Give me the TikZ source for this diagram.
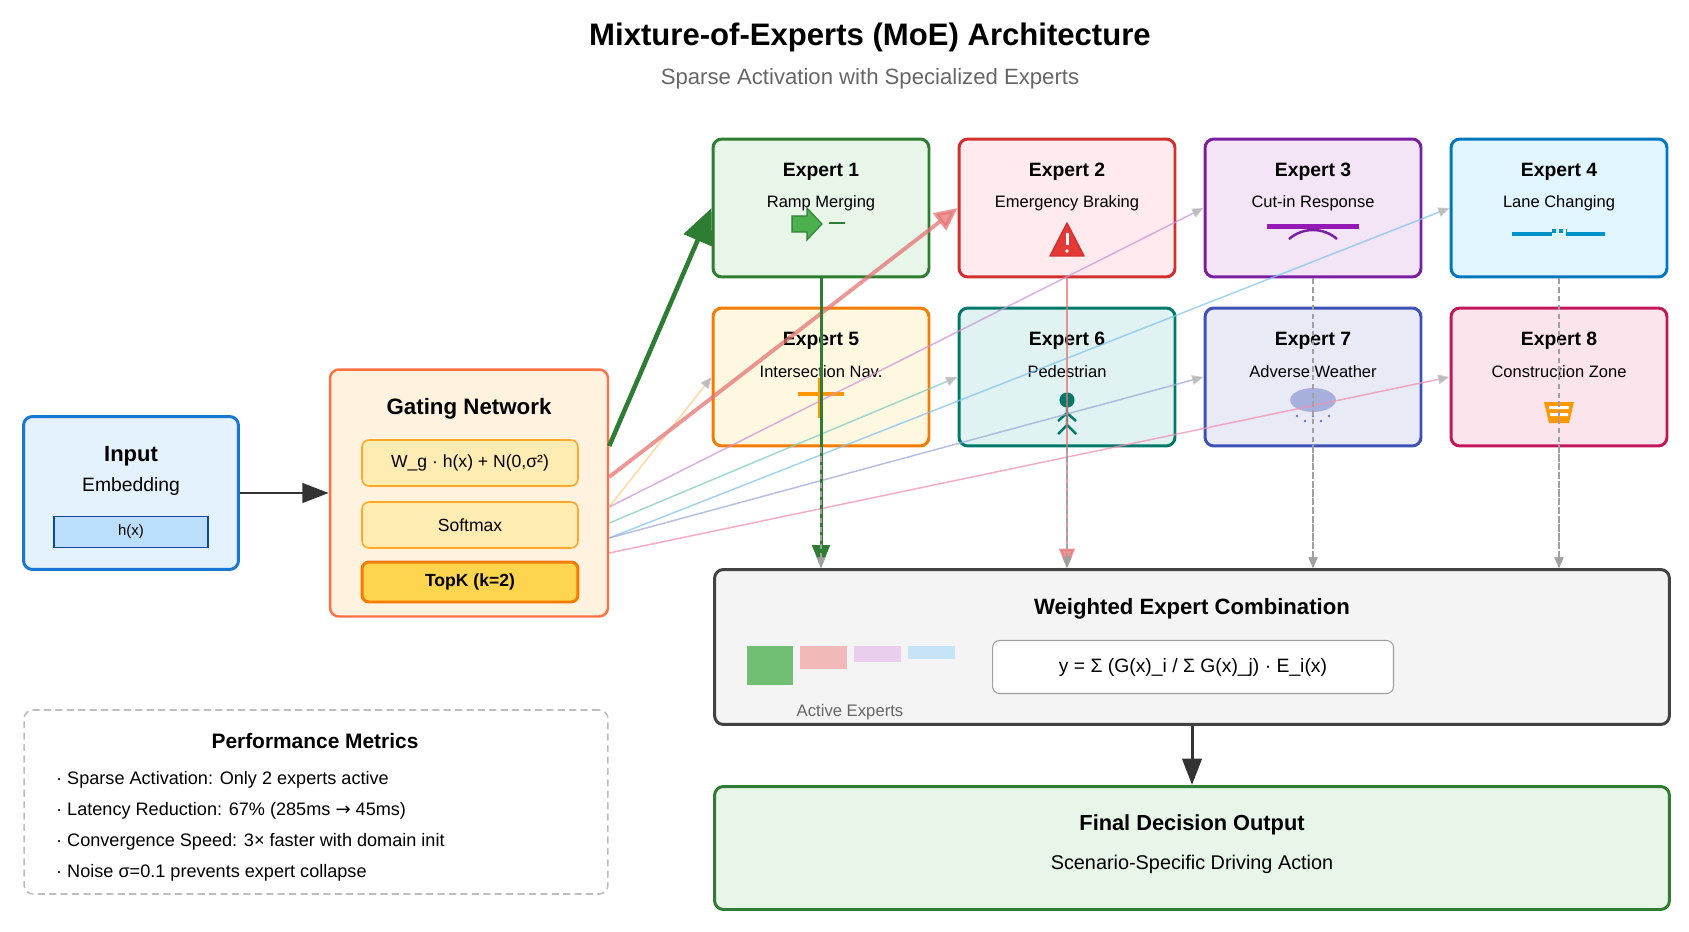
\documentclass[tikz,border=0pt]{standalone}
\usepackage{fontspec}
\setmainfont{Liberation Sans}
\newfontfamily\arrowfont{DejaVu Sans}
\usetikzlibrary{arrows.meta,calc}
\definecolor{ln1}{HTML}{2E7D32}\definecolor{bg1}{HTML}{E8F5E9}
\definecolor{ln2}{HTML}{D32F2F}\definecolor{bg2}{HTML}{FFEBEE}
\definecolor{ln3}{HTML}{7B1FA2}\definecolor{bg3}{HTML}{F3E5F5}
\definecolor{ln4}{HTML}{0277BD}\definecolor{bg4}{HTML}{E1F5FE}
\definecolor{ln5}{HTML}{F57C00}\definecolor{bg5}{HTML}{FFF8E1}
\definecolor{ln6}{HTML}{00796B}\definecolor{bg6}{HTML}{E0F2F1}
\definecolor{ln7}{HTML}{3F51B5}\definecolor{bg7}{HTML}{E8EAF6}
\definecolor{ln8}{HTML}{C2185B}\definecolor{bg8}{HTML}{FCE4EC}
\definecolor{rt3}{HTML}{CE93D8}\definecolor{rt4}{HTML}{81C4F0}
\definecolor{rt5}{HTML}{FFCC80}\definecolor{rt6}{HTML}{80CBC4}
\definecolor{rt7}{HTML}{9FA8DA}\definecolor{rt8}{HTML}{F48FB1}
\definecolor{inline}{HTML}{1976D2}\definecolor{inbg}{HTML}{E3F2FD}
\definecolor{hxline}{HTML}{0D47A1}\definecolor{hxbg}{HTML}{BBDEFB}
\definecolor{gateline}{HTML}{FF7043}\definecolor{gatebg}{HTML}{FFF3E0}
\definecolor{subline}{HTML}{FFA726}\definecolor{subbg}{HTML}{FFECB3}
\definecolor{topkline}{HTML}{F57C00}\definecolor{topkbg}{HTML}{FFD54F}
\definecolor{combline}{HTML}{424242}\definecolor{combbg}{HTML}{F4F4F4}
\definecolor{darkline}{HTML}{333333}\definecolor{redflow}{HTML}{E57373}
\definecolor{arrowgray}{HTML}{BDBDBD}\definecolor{idlegray}{HTML}{A0A0A0}
\definecolor{subgray}{HTML}{666666}\definecolor{mergegreen}{HTML}{4CAF50}
\definecolor{warnred}{HTML}{E53935}\definecolor{conegold}{HTML}{FF9800}
\tikzset{
 box/.style={draw, rounded corners=5pt, line width=1.7pt},
 expert/.style={box, draw=ln#1, fill=bg#1, minimum width=4.32cm, minimum height=2.76cm},
 etitle/.style={font=\fontsize{11}{13}\selectfont\bfseries},
 esub/.style={font=\fontsize{9.4}{11}\selectfont},
 gatesub/.style={draw=subline, fill=subbg, rounded corners=4pt, line width=0.9pt,
   minimum width=4.32cm, minimum height=0.92cm, font=\fontsize{10}{12}\selectfont},
 flow/.style={line width=1.7pt, draw=darkline, -{Triangle[length=15pt,width=11pt]}},
 route/.style={line width=0.85pt, draw opacity=0.75, -{Triangle[length=6.5pt,width=5.5pt,color=arrowgray]}},
 idle/.style={line width=0.7pt, draw=idlegray, dash pattern=on 3pt off 2pt,
   -{Triangle[length=6pt,width=5pt,color=idlegray]}},
}
\begin{document}
\begin{tikzpicture}[x=0.02cm, y=-0.02cm]
\useasboundingbox (0,0) rectangle (1689,932);
\node[font=\fontsize{17.7}{21}\selectfont\bfseries] (title) at (870,37) {Mixture-of-Experts (MoE) Architecture};
\node[font=\fontsize{12.6}{15}\selectfont, text=subgray] (subtitle) at (870,79) {Sparse Activation with Specialized Experts};

\node[box, draw=inline, fill=inbg, minimum width=4.3cm, minimum height=3.06cm] (input) at (131,493) {};
\node[font=\fontsize{12.5}{15}\selectfont\bfseries] (inputt) at (131,456) {Input};
\node[font=\fontsize{11}{13}\selectfont] (inputs) at (131,487) {Embedding};
\node[draw=hxline, fill=hxbg, line width=0.8pt, minimum width=3.08cm, minimum height=0.62cm,
  font=\fontsize{8.5}{10}\selectfont] (hx) at (131,532) {h(x)};

\node[box, draw=gateline, fill=gatebg, line width=1.4pt, minimum width=5.56cm, minimum height=4.94cm] (gate) at (469,493) {};
\node[font=\fontsize{12.7}{15}\selectfont\bfseries] (gatet) at (469,409) {Gating Network};
\node[gatesub] (noisy) at (470,463) {W\_g · h(x) + N(0,σ²)};
\node[gatesub] (softmax) at (470,525) {Softmax};
\node[gatesub, draw=topkline, fill=topkbg, line width=1.7pt, minimum height=0.8cm, font=\fontsize{10}{12}\selectfont\bfseries] (topk) at (470,582) {TopK (k=2)};

\foreach \i/\x/\y/\sub in {1/821/208/Ramp Merging, 2/1067/208/Emergency Braking,
  3/1313/208/Cut-in Response, 4/1559/208/Lane Changing, 5/821/377/Intersection Nav.,
  6/1067/377/Pedestrian, 7/1313/377/Adverse Weather, 8/1559/377/Construction Zone} {
  \node[expert=\i] (e\i) at (\x,\y) {};
  \node[etitle] (e\i t) at ($(e\i)+(0,-36)$) {Expert \i};
  \node[esub] (e\i s) at ($(e\i)+(0,-5)$) {\sub};
}

\begin{scope}[shift={(e1.center)}]
  \draw[ln1, fill=mergegreen, line width=0.6pt] (-29,8) -- (-14,8) -- (-14,0) -- (1,16) -- (-14,32) -- (-14,24) -- (-29,24) -- cycle;
  \draw[ln1, line width=1.7pt] (8,15) -- (24,15);
\end{scope}
\begin{scope}[shift={(e2.center)}]
  \draw[ln2, fill=warnred, line width=0.8pt, line join=round] (0,15) -- (17,48) -- (-17,48) -- cycle;
  \draw[white, line width=1.7pt] (0,25) -- (0,37);
  \fill[white] (0,43) circle (1.1pt);
\end{scope}
\begin{scope}[shift={(e3.center)}]
  \fill[ln3!80!magenta] (-46,16) rectangle (46,21);
  \draw[ln3, line width=1.4pt] (-24,31) .. controls (-10,19) and (10,19) .. (24,31);
\end{scope}
\begin{scope}[shift={(e4.center)}]
  \draw[ln4!80!cyan, line width=2pt] (-47,26) -- (-7,26) (7,26) -- (46,26);
  \draw[ln4!80!cyan, line width=2pt, dash pattern=on 2pt off 2pt] (-7,23) -- (8,23);
\end{scope}
\begin{scope}[shift={(e5.center)}]
  \draw[conegold, line width=2.2pt] (-23,17) -- (23,17) (-1,1) -- (-1,41);
\end{scope}
\begin{scope}[shift={(e6.center)}]
  \fill[ln6] (0,23) circle (4.3pt);
  \draw[ln6, line width=1.4pt] (0,28) -- (0,48) (-9,44) -- (0,36) -- (9,44) (-9,57) -- (0,48) -- (9,57);
\end{scope}
\begin{scope}[shift={(e7.center)}]
  \fill[ln7!60, opacity=0.7] (0,23) ellipse [x radius=13pt, y radius=6.8pt];
  \foreach \dx/\dy in {-16/39, -8/44, 0/39, 8/44, 16/39}
    \fill[ln7!80] (\dx,\dy) circle (0.8pt);
\end{scope}
\begin{scope}[shift={(e8.center)}]
  \fill[conegold] (-15,25) -- (15,25) -- (10,46) -- (-10,46) -- cycle;
  \fill[white] (-10,29) rectangle (10,32) (-9,36) rectangle (9,39);
\end{scope}

\node[box, draw=combline, fill=combbg, minimum width=19.1cm, minimum height=3.1cm] (comb) at (1192,647) {};
\node[font=\fontsize{12.6}{15}\selectfont\bfseries] (combt) at (1192,609) {Weighted Expert Combination};
\node[draw=idlegray, fill=white, rounded corners=4pt, line width=0.6pt, minimum width=8.02cm, minimum height=1.06cm,
  font=\fontsize{11}{13}\selectfont] (formula) at (1193,667) {y = Σ (G(x)\_i / Σ G(x)\_j) · E\_i(x)};
\fill[mergegreen!80] (747,646) rectangle (793,685);
\fill[redflow!50] (800,646) rectangle (847,669);
\fill[rt3!45] (854,646) rectangle (901,662);
\fill[rt4!45] (908,646) rectangle (955,659);
\node[font=\fontsize{9.5}{11}\selectfont, text=subgray] (activet) at (850,712) {Active Experts};

\node[box, draw=ln1, fill=bg1, minimum width=19.1cm, minimum height=2.46cm] (final) at (1192,848) {};
\node[font=\fontsize{12.4}{15}\selectfont\bfseries] (finalt) at (1192,825) {Final Decision Output};
\node[font=\fontsize{11.3}{13}\selectfont] (finals) at (1192,864) {Scenario-Specific Driving Action};

\node[draw=arrowgray, line width=0.9pt, dash pattern=on 4pt off 2.5pt, rounded corners=5pt,
  minimum width=11.68cm, minimum height=3.68cm] (metrics) at (316,802) {};
\node[font=\fontsize{11.9}{14}\selectfont\bfseries] (metricst) at (315,741) {Performance Metrics};
\foreach \t[count=\k] in {Sparse Activation: Only 2 experts active, Latency Reduction: 67\% (285ms {\arrowfont →} 45ms),
  Convergence Speed: 3× faster with domain init, Noise σ=0.1 prevents expert collapse}
  \node[anchor=west, font=\fontsize{10.3}{12}\selectfont] (m\k) at (50,{749+31*\k}) {· \t};

\draw[flow] (input) -- (gate);
\foreach \i/\dy/\col in {5/14/rt5, 3/14/rt3, 6/30/rt6, 4/45/rt4, 7/45/rt7, 8/60/rt8}
  \draw[route, draw=\col] ($(gate.east)+(0,\dy)$) -- (e\i.west);
\draw[line width=2.2pt, draw=redflow, opacity=0.75, -{Triangle[length=13pt,width=12pt]}] ($(gate.east)+(0,-16)$) -- (e2.west);
\draw[line width=2.6pt, draw=ln1, -{Triangle[length=20pt,width=17pt]}] ($(gate.east)+(0,-47)$) -- (e1.west);
\draw[line width=1.7pt, draw=ln1, -{Triangle[length=13pt,width=10pt]}] (e1.south) -- (e1.south |- comb.north);
\draw[line width=1.4pt, draw=redflow, opacity=0.75, -{Triangle[length=11pt,width=9pt]}] (e2.south) -- (e2.south |- comb.north);
\foreach \i in {3,...,8}
  \draw[idle] (e\i.south) -- (e\i.south |- comb.north);
\draw[flow] (comb) -- (final);
\end{tikzpicture}
\end{document}
